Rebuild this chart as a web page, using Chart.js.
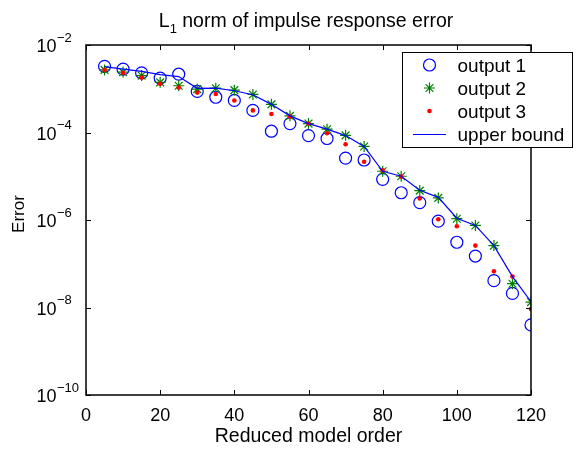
<!DOCTYPE html>
<html>
<head>
<meta charset="utf-8">
<script src="https://cdn.jsdelivr.net/npm/chart.js@4/dist/chart.umd.min.js"></script>
<style>
  html, body { margin: 0; padding: 0; background: #fff; }
  canvas { display: block; }
</style>
</head>
<body>
<canvas id="err_chart" width="574" height="451"></canvas>
<script>
// reduced model orders (x) and the errors
const orders = [5, 10, 15, 20, 25, 30, 35, 40, 45, 50, 55, 60, 65, 70, 75, 80, 85, 90, 95, 100, 105, 110, 115, 120];

const output1 = [3.25e-3, 2.8e-3, 2.3e-3, 1.75e-3, 2.15e-3, 8.7e-4, 6.4e-4, 5.4e-4, 3.2e-4, 1.07e-4, 1.6e-4, 8.5e-5,
  7.3e-5, 2.6e-5, 2.35e-5, 8.5e-6, 4.2e-6, 2.5e-6, 9.4e-7, 3.1e-7, 1.5e-7, 4.1e-8, 2.1e-8, 4.0e-9];
const output2 = [2.7e-3, 2.4e-3, 2.0e-3, 1.4e-3, 1.17e-3, 9.8e-4, 1.03e-3, 9.3e-4, 7.4e-4, 4.4e-4, 2.4e-4, 1.6e-4,
  1.19e-4, 8.6e-5, 4.8e-5, 1.3e-5, 1.0e-5, 4.7e-6, 3.2e-6, 1.07e-6, 7.5e-7, 2.6e-7, 3.5e-8, 1.33e-8];
const output3 = [2.7e-3, 2.3e-3, 1.8e-3, 1.3e-3, 1.07e-3, 8.2e-4, 7.6e-4, 5.4e-4, 3.2e-4, 2.65e-4, 2.3e-4, 1.6e-4,
  9.6e-5, 5.4e-5, 2.15e-5, 1.36e-5, 9.8e-6, 3.1e-6, 1.04e-6, 7.2e-7, 2.6e-7, 6.7e-8, 5.1e-8, 9.2e-9];
const upper_bound = [3.2e-3, 2.8e-3, 2.5e-3, 2.1e-3, 1.9e-3, 1.02e-3, 1.03e-3, 9.0e-4, 7.3e-4, 4.4e-4, 2.4e-4, 1.6e-4,
  1.19e-4, 8.5e-5, 4.8e-5, 1.3e-5, 1.0e-5, 4.8e-6, 3.3e-6, 1.1e-6, 7.5e-7, 2.6e-7, 5.1e-8, 1.36e-8];

const x_ticks = [0, 20, 40, 60, 80, 100, 120];
const y_tick_exps = [-2, -4, -6, -8, -10];

const FONT = '"Liberation Sans", Arial, Helvetica, sans-serif';

function pts(values) {
  return orders.map((x, i) => ({ x: x, y: values[i] }));
}

// box, inward ticks, log tick labels, title, axis labels and the legend
const matlabLook = {
  id: 'matlabLook',
  afterDraw(chart) {
    const c = chart.ctx;
    const a = chart.chartArea;
    const xs = chart.scales.x;
    const ys = chart.scales.y;
    c.save();

    // frame
    c.strokeStyle = '#000';
    c.lineWidth = 1.5;
    c.strokeRect(a.left, a.top, a.right - a.left, a.bottom - a.top);

    // inward ticks
    c.lineWidth = 1;
    c.beginPath();
    x_ticks.forEach((v) => {
      const px = Math.round(xs.getPixelForValue(v)) + 0.5;
      c.moveTo(px, a.bottom); c.lineTo(px, a.bottom - 5);
      c.moveTo(px, a.top); c.lineTo(px, a.top + 5);
    });
    y_tick_exps.forEach((e) => {
      const py = Math.round(ys.getPixelForValue(Math.pow(10, e))) + 0.5;
      c.moveTo(a.left, py); c.lineTo(a.left + 5, py);
      c.moveTo(a.right, py); c.lineTo(a.right - 5, py);
    });
    c.stroke();

    // y tick labels 10^e
    c.fillStyle = '#000';
    c.textBaseline = 'alphabetic';
    c.textAlign = 'left';
    y_tick_exps.forEach((e) => {
      const py = ys.getPixelForValue(Math.pow(10, e));
      c.font = '18px ' + FONT;
      c.fillText('10', 36.5, py + 7);
      const w = c.measureText('10').width;
      c.font = '13px ' + FONT;
      c.fillText('\u2212' + Math.abs(e), 36.5 + w + 0.5, py - 3.5);
    });

    // title with subscript
    c.font = '19.5px ' + FONT;
    const wL = c.measureText('L').width;
    const rest = ' norm of impulse response error';
    const wRest = c.measureText(rest).width;
    c.font = '13px ' + FONT;
    const wSub = c.measureText('1').width;
    let tx = 306 - (wL + wSub + wRest) / 2;
    c.font = '19.5px ' + FONT;
    c.fillText('L', tx, 27);
    c.font = '13px ' + FONT;
    c.fillText('1', tx + wL, 33);
    c.font = '19.5px ' + FONT;
    c.fillText(rest, tx + wL + wSub, 27);

    // x axis label
    c.textAlign = 'center';
    c.fillText('Reduced model order', (a.left + a.right) / 2, 442);

    // y axis label
    c.save();
    c.translate(24, 214);
    c.rotate(-Math.PI / 2);
    c.font = '17px ' + FONT;
    c.fillText('Error', 0, 0);
    c.restore();

    // legend
    const lx = 402, ly = 52, lw = 170, lh = 95;
    c.fillStyle = '#fff';
    c.fillRect(lx, ly, lw, lh);
    c.strokeStyle = '#000';
    c.lineWidth = 1;
    c.strokeRect(lx + 0.5, ly + 0.5, lw, lh);

    const items = chart.data.datasets;
    const symX = 429.5;
    c.textAlign = 'left';
    c.font = '19px ' + FONT;
    items.forEach((ds, i) => {
      const sy = 65 + i * 23;
      c.fillStyle = '#000';
      c.fillText(ds.label, 457.5, sy + 6.5);
      if (ds.showLine === false) {
        c.strokeStyle = ds.borderColor;
        c.fillStyle = ds.backgroundColor;
        c.lineWidth = ds.borderWidth;
        Chart.helpers.drawPoint(c, { pointStyle: ds.pointStyle, radius: ds.pointRadius, borderWidth: ds.borderWidth, rotation: 0 }, symX, sy);
      } else {
        c.strokeStyle = ds.borderColor;
        c.lineWidth = ds.borderWidth;
        c.beginPath();
        c.moveTo(413, sy + 0.5);
        c.lineTo(446, sy + 0.5);
        c.stroke();
      }
    });

    c.restore();
  }
};

const ctx = document.getElementById('err_chart').getContext('2d');

const my_chart = new Chart(ctx, {
  type: 'line',
  data: {
    datasets: [
      {
        label: 'output 1',
        data: pts(output1),
        showLine: false,
        pointStyle: 'circle',
        pointRadius: 6,
        borderColor: '#0000ff',
        backgroundColor: 'rgba(0,0,0,0)',
        borderWidth: 1.2,
        order: 3
      },
      {
        label: 'output 2',
        data: pts(output2),
        showLine: false,
        pointStyle: 'star',
        pointRadius: 5.5,
        borderColor: '#008000',
        backgroundColor: '#008000',
        borderWidth: 1.2,
        order: 2
      },
      {
        label: 'output 3',
        data: pts(output3),
        showLine: false,
        pointStyle: 'circle',
        pointRadius: 2.3,
        borderColor: '#ff0000',
        backgroundColor: '#ff0000',
        borderWidth: 0,
        order: 1
      },
      {
        label: 'upper bound',
        data: pts(upper_bound),
        showLine: true,
        borderColor: '#0000ff',
        backgroundColor: '#0000ff',
        borderWidth: 1.2,
        pointRadius: 0,
        tension: 0,
        fill: false,
        order: 0
      }
    ]
  },
  options: {
    responsive: false,
    animation: false,
    events: [],
    layout: { padding: { top: 45, right: 43, left: 0, bottom: 0 } },
    plugins: {
      legend: { display: false },
      title: { display: false },
      tooltip: { enabled: false }
    },
    scales: {
      x: {
        type: 'linear',
        min: 0,
        max: 120,
        afterBuildTicks: (s) => { s.ticks = x_ticks.map((v) => ({ value: v })); },
        grid: { display: false },
        border: { display: false },
        ticks: {
          color: '#000',
          font: { family: FONT, size: 18 },
          padding: 2,
          maxRotation: 0,
          autoSkip: false
        },
        afterFit: (s) => { s.height = 56; }
      },
      y: {
        type: 'logarithmic',
        min: 1e-10,
        max: 1e-2,
        grid: { display: false },
        border: { display: false },
        ticks: { display: false },
        afterFit: (s) => { s.width = 86; }
      }
    }
  },
  plugins: [matlabLook]
});
</script>
</body>
</html>
